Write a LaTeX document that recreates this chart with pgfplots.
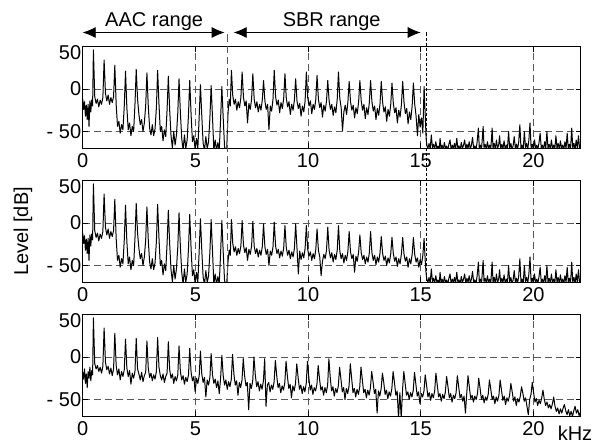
\documentclass[border=0pt]{standalone}
\usepackage{fontspec}
\setmainfont{Liberation Sans}
\usepackage{pgfplots}
\usepackage{pgfplotstable}
\pgfplotsset{compat=1.18}
\usetikzlibrary{arrows.meta}

% original spectrum (bottom)
\pgfplotstableread[row sep=\\]{
x y\\
0 -18\\ 0.04 -26\\ 0.08 -14\\ 0.12 -31\\ 0.16 -20\\ 0.20 -36\\ 0.24 -17\\ 0.28 -25\\ 0.32 -12\\ 0.36 -28\\ 0.40 -16\\ 0.44 -21\\
0.475 46\\ 0.535 -8\\ 0.595 -14\\ 0.655 -10\\ 0.715 -17\\ 0.775 -12\\ 0.835 -19\\ 0.895 -11\\
0.95 34\\ 1.01 -6\\ 1.07 -15\\ 1.13 -11\\ 1.19 -20\\ 1.25 -13\\ 1.31 -22\\ 1.37 -14\\
1.425 28\\ 1.485 -10\\ 1.545 -21\\ 1.605 -14\\ 1.665 -27\\ 1.725 -17\\ 1.785 -23\\ 1.845 -15\\
1.90 21\\ 1.96 -13\\ 2.02 -23\\ 2.08 -16\\ 2.14 -32\\ 2.20 -19\\ 2.26 -25\\ 2.32 -17\\
2.375 22\\ 2.435 -14\\ 2.495 -20\\ 2.555 -27\\ 2.615 -18\\ 2.675 -29\\ 2.735 -22\\ 2.795 -18\\
2.85 19\\ 2.91 -13\\ 2.97 -24\\ 3.03 -19\\ 3.09 -28\\ 3.15 -21\\ 3.21 -26\\ 3.27 -17\\
3.325 23\\ 3.385 -12\\ 3.445 -22\\ 3.505 -27\\ 3.565 -20\\ 3.625 -30\\ 3.685 -23\\ 3.745 -19\\
3.80 18\\ 3.86 -15\\ 3.92 -25\\ 3.98 -20\\ 4.04 -31\\ 4.10 -23\\ 4.16 -28\\ 4.22 -21\\
4.275 13\\ 4.335 -17\\ 4.395 -27\\ 4.455 -22\\ 4.515 -32\\ 4.575 -24\\ 4.635 -29\\ 4.695 -21\\
4.75 10\\ 4.81 -18\\ 4.87 -28\\ 4.93 -23\\ 4.99 -41\\ 5.05 -25\\ 5.11 -31\\ 5.17 -22\\
5.225 7\\ 5.285 -20\\ 5.345 -30\\ 5.405 -24\\ 5.465 -47\\ 5.525 -27\\ 5.585 -33\\ 5.645 -24\\
5.70 4\\ 5.76 -21\\ 5.82 -31\\ 5.88 -26\\ 5.94 -36\\ 6.00 -28\\ 6.06 -43\\ 6.12 -25\\
6.175 2\\ 6.235 -22\\ 6.295 -33\\ 6.355 -27\\ 6.415 -38\\ 6.475 -29\\ 6.535 -35\\ 6.595 -26\\
6.65 3\\ 6.71 -20\\ 6.77 -33\\ 6.83 -28\\ 6.89 -45\\ 6.95 -30\\ 7.01 -36\\ 7.07 -27\\
7.125 -2\\ 7.185 -22\\ 7.245 -34\\ 7.305 -30\\ 7.365 -62\\ 7.425 -31\\ 7.485 -37\\ 7.545 -28\\
7.60 0\\ 7.66 -21\\ 7.72 -35\\ 7.78 -29\\ 7.84 -40\\ 7.90 -32\\ 7.96 -38\\ 8.02 -28\\
8.075 -2\\ 8.135 -58\\ 8.195 -33\\ 8.255 -30\\ 8.315 -41\\ 8.375 -33\\ 8.435 -38\\ 8.495 -29\\
8.55 -4\\ 8.61 -22\\ 8.67 -36\\ 8.73 -31\\ 8.79 -42\\ 8.85 -34\\ 8.91 -39\\ 8.97 -30\\
9.025 -5\\ 9.085 -23\\ 9.145 -37\\ 9.205 -32\\ 9.265 -48\\ 9.325 -34\\ 9.385 -40\\ 9.445 -31\\
9.50 -8\\ 9.56 -24\\ 9.62 -38\\ 9.68 -33\\ 9.74 -43\\ 9.80 -35\\ 9.86 -41\\ 9.92 -31\\
9.975 -5\\ 10.035 -24\\ 10.095 -39\\ 10.155 -33\\ 10.215 -44\\ 10.275 -36\\ 10.335 -40\\ 10.395 -32\\
10.45 -10\\ 10.51 -26\\ 10.57 -39\\ 10.63 -35\\ 10.69 -45\\ 10.75 -36\\ 10.81 -42\\ 10.87 -33\\
10.925 -2\\ 10.985 -24\\ 11.045 -40\\ 11.105 -35\\ 11.165 -46\\ 11.225 -37\\ 11.285 -42\\ 11.345 -34\\
11.40 -12\\ 11.46 -26\\ 11.52 -41\\ 11.58 -36\\ 11.64 -50\\ 11.70 -37\\ 11.76 -43\\ 11.82 -34\\
11.875 -8\\ 11.935 -25\\ 11.995 -42\\ 12.055 -37\\ 12.115 -47\\ 12.175 -38\\ 12.235 -44\\ 12.295 -35\\
12.35 -12\\ 12.41 -27\\ 12.47 -42\\ 12.53 -38\\ 12.59 -48\\ 12.65 -39\\ 12.71 -45\\ 12.77 -36\\
12.825 -17\\ 12.885 -29\\ 12.945 -43\\ 13.005 -38\\ 13.065 -66\\ 13.125 -40\\ 13.185 -46\\ 13.245 -37\\
13.30 -19\\ 13.36 -30\\ 13.42 -44\\ 13.48 -39\\ 13.54 -49\\ 13.60 -41\\ 13.66 -46\\ 13.72 -37\\
13.775 -17\\ 13.835 -30\\ 13.895 -45\\ 13.955 -40\\ 14.015 -72\\ 14.075 -42\\ 14.135 -72\\ 14.195 -38\\
14.25 -17\\ 14.31 -31\\ 14.37 -45\\ 14.43 -41\\ 14.49 -50\\ 14.55 -42\\ 14.61 -47\\ 14.67 -39\\
14.725 -18\\ 14.785 -32\\ 14.845 -46\\ 14.905 -41\\ 14.965 -55\\ 15.025 -43\\ 15.085 -47\\ 15.145 -40\\
15.20 -21\\ 15.26 -33\\ 15.32 -47\\ 15.38 -42\\ 15.44 -51\\ 15.50 -43\\ 15.56 -48\\ 15.62 -40\\
15.675 -19\\ 15.735 -33\\ 15.795 -47\\ 15.855 -43\\ 15.915 -52\\ 15.975 -44\\ 16.035 -49\\ 16.095 -41\\
16.15 -23\\ 16.21 -35\\ 16.27 -48\\ 16.33 -43\\ 16.39 -53\\ 16.45 -45\\ 16.51 -49\\ 16.57 -42\\
16.625 -22\\ 16.685 -35\\ 16.745 -48\\ 16.805 -44\\ 16.865 -52\\ 16.925 -46\\ 16.985 -66\\ 17.045 -42\\
17.10 -22\\ 17.16 -36\\ 17.22 -49\\ 17.28 -45\\ 17.34 -53\\ 17.40 -46\\ 17.46 -50\\ 17.52 -43\\
17.575 -25\\ 17.635 -37\\ 17.695 -50\\ 17.755 -45\\ 17.815 -54\\ 17.875 -47\\ 17.935 -51\\ 17.995 -44\\
18.05 -27\\ 18.11 -38\\ 18.17 -50\\ 18.23 -46\\ 18.29 -55\\ 18.35 -47\\ 18.41 -52\\ 18.47 -45\\
18.525 -27\\ 18.585 -39\\ 18.645 -51\\ 18.705 -46\\ 18.765 -56\\ 18.825 -48\\ 18.885 -52\\ 18.945 -45\\
19.00 -31\\ 19.06 -41\\ 19.12 -52\\ 19.18 -47\\ 19.24 -57\\ 19.30 -49\\ 19.36 -53\\ 19.42 -46\\
19.475 -35\\ 19.535 -43\\ 19.595 -52\\ 19.655 -48\\ 19.715 -58\\ 19.775 -68\\ 19.835 -50\\ 19.895 -44\\
19.95 -30\\ 20.01 -42\\ 20.07 -53\\ 20.13 -49\\ 20.19 -57\\ 20.25 -51\\ 20.31 -55\\ 20.37 -48\\
20.425 -39\\ 20.485 -50\\ 20.545 -57\\ 20.605 -53\\ 20.665 -60\\ 20.725 -56\\ 20.785 -61\\ 20.845 -55\\
20.90 -47\\ 20.96 -58\\ 21.02 -64\\ 21.08 -60\\ 21.14 -67\\ 21.20 -61\\ 21.26 -66\\ 21.32 -60\\
21.375 -56\\ 21.435 -63\\ 21.495 -68\\ 21.555 -62\\ 21.615 -69\\ 21.675 -64\\ 21.735 -70\\ 21.795 -63\\
21.85 -58\\ 21.91 -66\\ 21.97 -62\\ 22.03 -69\\ 22.10 -64\\
}\orig

% AAC coded low band (top and middle)
\pgfplotstableread[row sep=\\]{
x y\\
0 -12\\ 0.04 -24\\ 0.08 -15\\ 0.12 -32\\ 0.16 -19\\ 0.20 -36\\ 0.24 -18\\ 0.28 -44\\ 0.32 -14\\ 0.36 -27\\ 0.40 -13\\ 0.44 -20\\
0.475 46\\ 0.535 -9\\ 0.595 -17\\ 0.655 -12\\ 0.715 -21\\ 0.775 -13\\ 0.835 -18\\ 0.895 -10\\
0.95 34\\ 1.01 -5\\ 1.07 -14\\ 1.13 -7\\ 1.19 -18\\ 1.25 -10\\ 1.31 -16\\ 1.37 -9\\
1.425 28\\ 1.485 -18\\ 1.545 -44\\ 1.605 -38\\ 1.665 -52\\ 1.725 -42\\ 1.785 -48\\ 1.845 -20\\
1.90 21\\ 1.96 -22\\ 2.02 -48\\ 2.08 -40\\ 2.14 -55\\ 2.20 -44\\ 2.26 -50\\ 2.32 -18\\
2.375 23\\ 2.435 -12\\ 2.495 -30\\ 2.555 -42\\ 2.615 -36\\ 2.675 -50\\ 2.735 -40\\ 2.795 -20\\
2.85 19\\ 2.91 -20\\ 2.97 -46\\ 3.03 -54\\ 3.09 -42\\ 3.15 -55\\ 3.21 -47\\ 3.27 -22\\
3.325 22\\ 3.385 -18\\ 3.445 -50\\ 3.505 -44\\ 3.565 -61\\ 3.625 -48\\ 3.685 -56\\ 3.745 -24\\
3.80 15\\ 3.86 -25\\ 3.92 -55\\ 3.98 -69\\ 4.04 -50\\ 4.10 -66\\ 4.16 -54\\ 4.22 -28\\
4.275 12\\ 4.335 -28\\ 4.395 -58\\ 4.455 -72\\ 4.515 -54\\ 4.575 -70\\ 4.635 -60\\ 4.695 -30\\
4.75 10\\ 4.81 -30\\ 4.87 -62\\ 4.93 -55\\ 4.99 -72\\ 5.05 -58\\ 5.11 -70\\ 5.17 -32\\
5.225 5\\ 5.285 -32\\ 5.345 -64\\ 5.405 -72\\ 5.465 -56\\ 5.525 -70\\ 5.585 -62\\ 5.645 -34\\
5.70 4\\ 5.76 -33\\ 5.82 -72\\ 5.88 -60\\ 5.94 -72\\ 6.00 -63\\ 6.06 -72\\ 6.12 -35\\
6.175 3\\ 6.235 -34\\ 6.295 -68\\ 6.355 -72\\ 6.39 -72\\
}\aac

% SBR band, top panel
\pgfplotstableread[row sep=\\]{
x y\\
6.39 -72\\ 6.45 -28\\ 6.50 -12\\ 6.55 -20\\
6.60 22\\ 6.66 -8\\ 6.72 -18\\ 6.78 -12\\ 6.84 -25\\ 6.90 -15\\ 6.96 -22\\ 7.02 -10\\
7.075 20\\ 7.135 -10\\ 7.195 -20\\ 7.255 -14\\ 7.315 -40\\ 7.375 -17\\ 7.435 -24\\ 7.495 -12\\
7.55 18\\ 7.61 -12\\ 7.67 -22\\ 7.73 -15\\ 7.79 -27\\ 7.85 -18\\ 7.91 -25\\ 7.97 -13\\
8.025 10\\ 8.085 -14\\ 8.145 -24\\ 8.205 -18\\ 8.265 -48\\ 8.325 -20\\ 8.385 -26\\ 8.445 -12\\
8.50 22\\ 8.56 -9\\ 8.62 -19\\ 8.68 -13\\ 8.74 -28\\ 8.80 -16\\ 8.86 -23\\ 8.92 -11\\
8.975 18\\ 9.035 -11\\ 9.095 -21\\ 9.155 -15\\ 9.215 -30\\ 9.275 -18\\ 9.335 -25\\ 9.395 -13\\
9.45 12\\ 9.51 -14\\ 9.57 -23\\ 9.63 -17\\ 9.69 -32\\ 9.75 -20\\ 9.81 -27\\ 9.87 -14\\
9.925 20\\ 9.985 -10\\ 10.045 -20\\ 10.105 -14\\ 10.165 -29\\ 10.225 -18\\ 10.285 -24\\ 10.345 -12\\
10.40 16\\ 10.46 -12\\ 10.52 -22\\ 10.58 -16\\ 10.64 -33\\ 10.70 -19\\ 10.76 -26\\ 10.82 -14\\
10.875 10\\ 10.935 -14\\ 10.995 -24\\ 11.055 -18\\ 11.115 -31\\ 11.175 -21\\ 11.235 -28\\ 11.295 -12\\
11.35 20\\ 11.41 -11\\ 11.47 -22\\ 11.53 -49\\ 11.59 -27\\ 11.65 -19\\ 11.71 -30\\ 11.77 -15\\
11.825 9\\ 11.885 -15\\ 11.945 -25\\ 12.005 -19\\ 12.065 -34\\ 12.125 -22\\ 12.185 -29\\ 12.245 -15\\
12.30 10\\ 12.36 -14\\ 12.42 -25\\ 12.48 -18\\ 12.54 -35\\ 12.60 -22\\ 12.66 -30\\ 12.72 -16\\
12.775 10\\ 12.835 -15\\ 12.895 -26\\ 12.955 -20\\ 13.015 -36\\ 13.075 -23\\ 13.135 -31\\ 13.195 -17\\
13.25 9\\ 13.31 -16\\ 13.37 -27\\ 13.43 -21\\ 13.49 -38\\ 13.55 -24\\ 13.61 -32\\ 13.67 -18\\
13.725 7\\ 13.785 -17\\ 13.845 -28\\ 13.905 -22\\ 13.965 -40\\ 14.025 -25\\ 14.085 -33\\ 14.145 -18\\
14.20 9\\ 14.26 -16\\ 14.32 -29\\ 14.38 -23\\ 14.44 -41\\ 14.50 -27\\ 14.56 -36\\ 14.62 -20\\
14.675 7\\ 14.735 -18\\ 14.795 -32\\ 14.855 -55\\ 14.915 -30\\ 14.975 -45\\ 15.035 -34\\ 15.095 -52\\
15.15 3\\ 15.20 -30\\ 15.24 -58\\ 15.27 -66\\
}\sbrtop

% SBR band after envelope adjustment, middle panel
\pgfplotstableread[row sep=\\]{
x y\\
6.39 -72\\ 6.45 -45\\ 6.50 -32\\ 6.55 -38\\
6.60 4\\ 6.66 -24\\ 6.72 -34\\ 6.78 -28\\ 6.84 -38\\ 6.90 -30\\ 6.96 -36\\ 7.02 -27\\
7.075 3\\ 7.135 -26\\ 7.195 -35\\ 7.255 -29\\ 7.315 -44\\ 7.375 -31\\ 7.435 -37\\ 7.495 -27\\
7.55 2\\ 7.61 -27\\ 7.67 -36\\ 7.73 -30\\ 7.79 -40\\ 7.85 -32\\ 7.91 -38\\ 7.97 -28\\
8.025 -1\\ 8.085 -28\\ 8.145 -37\\ 8.205 -31\\ 8.265 -50\\ 8.325 -33\\ 8.385 -38\\ 8.445 -28\\
8.50 1\\ 8.56 -27\\ 8.62 -36\\ 8.68 -31\\ 8.74 -41\\ 8.80 -33\\ 8.86 -39\\ 8.92 -29\\
8.975 -3\\ 9.035 -29\\ 9.095 -38\\ 9.155 -32\\ 9.215 -42\\ 9.275 -34\\ 9.335 -40\\ 9.395 -30\\
9.45 -1\\ 9.51 -30\\ 9.57 -60\\ 9.63 -33\\ 9.69 -43\\ 9.75 -35\\ 9.81 -41\\ 9.87 -30\\
9.925 -3\\ 9.985 -31\\ 10.045 -39\\ 10.105 -34\\ 10.165 -44\\ 10.225 -36\\ 10.285 -42\\ 10.345 -31\\
10.40 -7\\ 10.46 -32\\ 10.52 -40\\ 10.58 -62\\ 10.64 -45\\ 10.70 -37\\ 10.76 -42\\ 10.82 -32\\
10.875 -5\\ 10.935 -32\\ 10.995 -41\\ 11.055 -35\\ 11.115 -46\\ 11.175 -37\\ 11.235 -43\\ 11.295 -32\\
11.35 -3\\ 11.41 -33\\ 11.47 -42\\ 11.53 -36\\ 11.59 -47\\ 11.65 -38\\ 11.71 -44\\ 11.77 -33\\
11.825 -10\\ 11.885 -34\\ 11.945 -42\\ 12.005 -37\\ 12.065 -58\\ 12.125 -39\\ 12.185 -45\\ 12.245 -34\\
12.30 -14\\ 12.36 -35\\ 12.42 -43\\ 12.48 -38\\ 12.54 -48\\ 12.60 -40\\ 12.66 -46\\ 12.72 -35\\
12.775 -10\\ 12.835 -35\\ 12.895 -44\\ 12.955 -38\\ 13.015 -49\\ 13.075 -40\\ 13.135 -46\\ 13.195 -35\\
13.25 -16\\ 13.31 -36\\ 13.37 -44\\ 13.43 -39\\ 13.49 -50\\ 13.55 -41\\ 13.61 -47\\ 13.67 -36\\
13.725 -17\\ 13.785 -36\\ 13.845 -45\\ 13.905 -40\\ 13.965 -51\\ 14.025 -42\\ 14.085 -48\\ 14.145 -36\\
14.20 -17\\ 14.26 -37\\ 14.32 -45\\ 14.38 -40\\ 14.44 -52\\ 14.50 -42\\ 14.56 -48\\ 14.62 -37\\
14.675 -17\\ 14.735 -37\\ 14.795 -46\\ 14.855 -41\\ 14.915 -52\\ 14.975 -43\\ 15.035 -49\\ 15.095 -38\\
15.15 -18\\ 15.20 -44\\ 15.24 -60\\ 15.27 -66\\
}\sbrmid

% noise floor above the SBR range
\pgfplotstableread[row sep=\\]{
x y\\
15.27 -66\\ 15.32 -70\\ 15.37 -64\\ 15.42 -71\\ 15.47 -54\\ 15.52 -69\\ 15.57 -65\\ 15.62 -71\\ 15.67 -62\\ 15.72 -70\\ 15.77 -67\\ 15.82 -72\\ 15.86 -58\\ 15.90 -70\\ 15.95 -66\\ 16.00 -71\\
16.05 -63\\ 16.10 -70\\ 16.15 -67\\ 16.20 -72\\ 16.25 -65\\ 16.30 -60\\ 16.35 -71\\ 16.40 -66\\ 16.45 -70\\ 16.50 -64\\ 16.55 -71\\ 16.60 -58\\ 16.65 -70\\ 16.70 -67\\ 16.75 -72\\ 16.80 -63\\
16.85 -70\\ 16.90 -66\\ 16.95 -60\\ 17.00 -71\\ 17.05 -65\\ 17.10 -70\\ 17.15 -62\\ 17.20 -71\\ 17.25 -66\\ 17.30 -57\\ 17.35 -70\\ 17.40 -67\\ 17.45 -72\\ 17.50 -63\\ 17.56 -46\\ 17.60 -70\\
17.65 -66\\ 17.70 -71\\ 17.77 -44\\ 17.81 -69\\ 17.86 -65\\ 17.91 -71\\ 17.96 -62\\ 18.01 -70\\ 18.06 -66\\ 18.11 -71\\ 18.17 -46\\ 18.21 -70\\ 18.26 -64\\ 18.31 -71\\ 18.36 -60\\ 18.41 -70\\
18.46 -66\\ 18.50 -55\\ 18.55 -71\\ 18.60 -65\\ 18.65 -70\\ 18.70 -61\\ 18.75 -71\\ 18.80 -66\\ 18.85 -70\\ 18.90 -50\\ 18.95 -70\\ 19.00 -64\\ 19.05 -71\\ 19.10 -67\\ 19.15 -56\\ 19.20 -70\\
19.25 -65\\ 19.30 -71\\ 19.35 -62\\ 19.40 -42\\ 19.45 -70\\ 19.50 -66\\ 19.55 -71\\ 19.60 -50\\ 19.65 -69\\ 19.70 -64\\ 19.75 -71\\ 19.80 -60\\ 19.85 -40\\ 19.90 -70\\ 19.95 -65\\ 20.00 -71\\
20.05 -60\\ 20.10 -70\\ 20.15 -66\\ 20.20 -71\\ 20.25 -63\\ 20.30 -52\\ 20.35 -70\\ 20.40 -66\\ 20.45 -71\\ 20.50 -62\\ 20.55 -70\\ 20.60 -50\\ 20.65 -70\\ 20.70 -65\\ 20.75 -71\\ 20.80 -60\\
20.85 -70\\ 20.90 -66\\ 20.95 -71\\ 21.00 -55\\ 21.05 -70\\ 21.10 -64\\ 21.15 -71\\ 21.20 -61\\ 21.25 -70\\ 21.30 -66\\ 21.35 -71\\ 21.40 -62\\ 21.45 -70\\ 21.50 -52\\ 21.55 -70\\ 21.60 -65\\
21.65 -71\\ 21.70 -46\\ 21.75 -70\\ 21.80 -64\\ 21.85 -71\\ 21.90 -60\\ 21.95 -70\\ 22.00 -55\\ 22.05 -70\\ 22.10 -66\\
}\noise

\newcommand{\lbl}{\fontsize{20}{24}\selectfont}
\tikzset{dline/.style={black, line width=1pt, line join=round}}
\pgfplotsset{
  spec/.style={
    scale only axis, width=498pt, height=102pt,
    xmin=0, xmax=22.1, ymin=-70, ymax=50,
    xtick={0,5,10,15,20}, xticklabels={0,5,10,15,20},
    ytick={-50,0}, yticklabels={- 50,0},
    extra y ticks={43}, extra y tick labels={50},
    extra y tick style={major tick length=0pt, grid=none},
    grid=major,
    major grid style={black!65, line width=0.8pt, dash pattern=on 7pt off 4pt},
    tick align=inside, major tick length=5pt,
    tick style={black, line width=0.8pt},
    axis line style={black, line width=1.3pt},
    ticklabel style={font=\lbl},
    xticklabel style={yshift=-2pt},
    yticklabel style={xshift=2pt},
  }
}

\begin{document}
\begin{tikzpicture}
\useasboundingbox (0,0) rectangle (597pt,443pt);

\begin{axis}[spec, at={(82.7pt,294.5pt)}, anchor=south west]
\addplot[dline] table[x=x,y=y] {\aac};
\addplot[dline] table[x=x,y=y] {\sbrtop};
\addplot[dline] table[x=x,y=y] {\noise};
\coordinate (aL) at (axis cs:0,50);
\coordinate (aR) at (axis cs:6.3,50);
\coordinate (aC) at (axis cs:3.17,50);
\coordinate (sL) at (axis cs:6.7,50);
\coordinate (sR) at (axis cs:15.0,50);
\coordinate (sC) at (axis cs:11.05,50);
\coordinate (v1) at (axis cs:6.4,50);
\coordinate (v2) at (axis cs:15.27,50);
\end{axis}

\begin{axis}[spec, at={(82.7pt,160.5pt)}, anchor=south west]
\addplot[dline] table[x=x,y=y] {\aac};
\addplot[dline] table[x=x,y=y] {\sbrmid};
\addplot[dline] table[x=x,y=y] {\noise};
\coordinate (w1) at (axis cs:6.4,-70);
\coordinate (w2) at (axis cs:15.27,-70);
\end{axis}

\begin{axis}[spec, at={(82.7pt,26.5pt)}, anchor=south west]
\addplot[dline] table[x=x,y=y] {\orig};
\end{axis}

% annotations
\draw[black!65, line width=0.8pt, dash pattern=on 7pt off 4pt] ([yshift=12pt]v1) -- (w1);
\draw[black, line width=0.7pt, dash pattern=on 3pt off 2pt] ([yshift=14pt]v2) -- (w2);
\draw[line width=0.8pt, {Latex[length=13pt,width=11pt]}-{Latex[length=13pt,width=11pt]}] ([yshift=14pt]aL) -- ([yshift=14pt]aR);
\draw[line width=0.8pt, {Latex[length=13pt,width=11pt]}-{Latex[length=13pt,width=11pt]}] ([yshift=14pt]sL) -- ([yshift=14pt]sR);
\node[anchor=base, font=\lbl, inner sep=0pt] at ([yshift=20pt]aC) {AAC range};
\node[anchor=base, font=\lbl, inner sep=0pt] at ([yshift=20pt]sC) {SBR range};
\node[rotate=90, font=\lbl, inner sep=0pt] at (23pt,211.5pt) {Level [dB]};
\node[font=\lbl, inner sep=0pt] at (575pt,10pt) {kHz};
\end{tikzpicture}
\end{document}
